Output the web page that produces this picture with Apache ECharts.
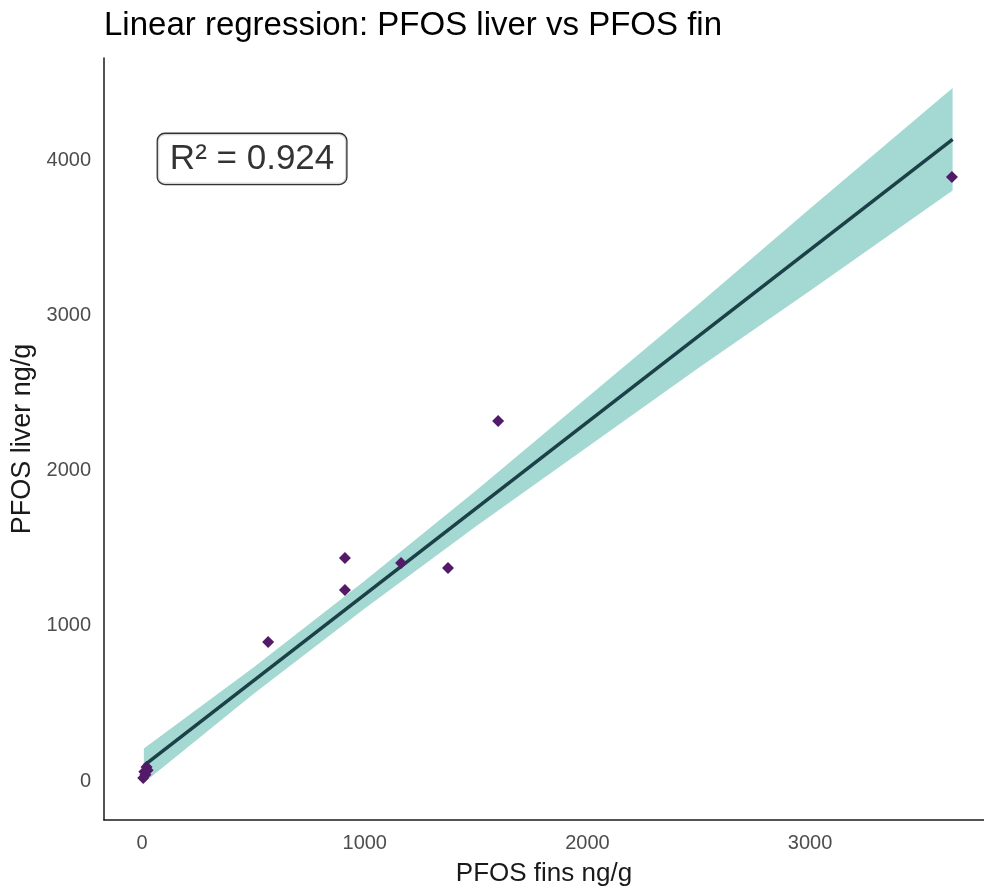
<!DOCTYPE html>
<html>
<head>
<meta charset="utf-8">
<script src="https://cdn.jsdelivr.net/npm/echarts@6/dist/echarts.min.js"></script>
<style>html,body{margin:0;padding:0;background:#fff}#c{width:984px;height:893px}</style>
</head>
<body>
<div id="c"></div>
<script>
// observed points (PFOS fins ng/g, PFOS liver ng/g)
const finX   = [5, 10, 15, 20, 25, 566, 911, 911, 1163, 1374, 1599, 3637];
const liverY = [20, 60, 40, 90, 70, 896, 1437, 1230, 1405, 1372, 2320, 3892];
// fitted regression line
const fitX = [8, 3640];
const fitY = [99, 4134];
// confidence band
const bandX    = [8, 500, 1000, 1500, 2000, 2500, 3000, 3640];
const bandLow  = [-11, 561, 1111, 1642, 2152, 2663, 3158, 3804];
const bandHigh = [209, 731, 1291, 1872, 2472, 3073, 3688, 4464];
// axis ticks
const xTicks = [0, 1000, 2000, 3000];
const yTicks = [0, 1000, 2000, 3000, 4000];
const r2Text = 'R² = 0.924';
const r2Pos = [494, 4008];

const chart = echarts.init(document.getElementById('c'));
const bandData = bandX.map((x, i) => [x, bandLow[i], bandHigh[i]]);
const FONT = '"Liberation Sans", Arial, sans-serif';

chart.setOption({
  animation: false,
  backgroundColor: '#fff',
  title: {
    text: 'Linear regression: PFOS liver vs PFOS fin',
    left: 99, top: 4,
    textStyle: {fontFamily: FONT, fontSize: 33, fontWeight: 'normal', color: '#000'}
  },
  grid: {left: 104, top: 58, right: 0, bottom: 73, containLabel: false, outerBoundsMode: 'none'},
  xAxis: {
    type: 'value', min: -171, max: 3781,
    name: 'PFOS fins ng/g', nameLocation: 'middle', nameGap: 41,
    nameTextStyle: {fontFamily: FONT, fontSize: 26, color: '#1a1a1a'},
    axisLine: {show: true, onZero: false, lineStyle: {color: '#1a1a1a', width: 1.5}},
    axisTick: {show: false},
    splitLine: {show: false},
    axisLabel: {customValues: xTicks, formatter: v => String(v), fontFamily: FONT, fontSize: 20, color: '#4d4d4d', margin: 13}
  },
  yAxis: {
    type: 'value', min: -251, max: 4658,
    name: 'PFOS liver ng/g', nameLocation: 'middle', nameGap: 64,
    nameTextStyle: {fontFamily: FONT, fontSize: 27, color: '#1a1a1a'},
    axisLine: {show: true, onZero: false, lineStyle: {color: '#1a1a1a', width: 1.5}},
    axisTick: {show: false},
    splitLine: {show: false},
    axisLabel: {customValues: yTicks, formatter: v => String(v), fontFamily: FONT, fontSize: 20, color: '#4d4d4d', margin: 13}
  },
  series: [
    {
      type: 'custom',
      data: bandData,
      encode: {x: 0, y: [1, 2]},
      silent: true,
      renderItem: function (params, api) {
        if (params.dataIndex !== 0) return null;
        const upper = bandData.map(d => api.coord([d[0], d[2]]));
        const lower = bandData.slice().reverse().map(d => api.coord([d[0], d[1]]));
        return {
          type: 'polygon',
          shape: {points: upper.concat(lower)},
          style: {fill: '#a3d9d2'}
        };
      },
      z: 1
    },
    {
      type: 'line',
      data: fitX.map((x, i) => [x, fitY[i]]),
      showSymbol: false,
      lineStyle: {color: '#1c4048', width: 3.5},
      silent: true,
      z: 2
    },
    {
      type: 'scatter',
      data: finX.map((x, i) => [x, liverY[i]]),
      symbol: 'diamond',
      symbolSize: 12,
      itemStyle: {color: '#521a68', opacity: 1},
      z: 3
    },
    {
      type: 'scatter',
      data: [r2Pos],
      symbolSize: 0,
      silent: true,
      label: {
        show: true, position: 'inside',
        formatter: r2Text,
        fontFamily: FONT, fontSize: 35, color: '#000',
        backgroundColor: '#fff',
        borderColor: '#000', borderWidth: 1.3, borderRadius: 7,
        padding: [9, 12, 6, 12]
      },
      z: 4
    }
  ]
});
</script>
</body>
</html>
